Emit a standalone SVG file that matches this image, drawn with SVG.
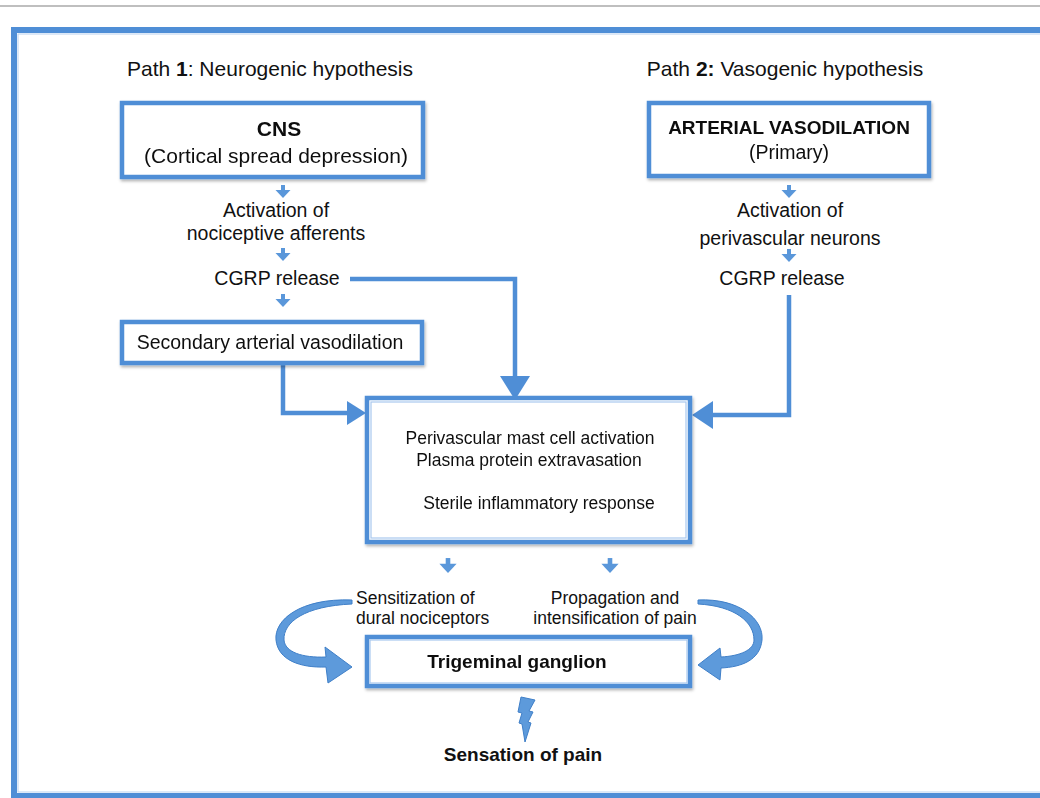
<svg xmlns="http://www.w3.org/2000/svg" width="1040" height="798" viewBox="0 0 1040 798">
<defs>
<style>
.t{font-family:"Liberation Sans",Arial,sans-serif;fill:#111;text-anchor:middle}
.b{font-weight:bold}
.box{fill:#fff;stroke:#4f8ed6;stroke-width:4.5}
.inner{fill:none;stroke:#a9c8ee;stroke-width:1.2}
.con{fill:none;stroke:#4f8ed6;stroke-width:4.5;stroke-linejoin:miter}
.head{fill:#4f8ed6}
.sa{fill:#5a97da}
.curve{fill:#5d9adb;stroke:#3f7fc8;stroke-width:1}
</style>
<filter id="sh" x="-5%" y="-10%" width="110%" height="130%">
<feDropShadow dx="1" dy="2" stdDeviation="1.5" flood-color="#000" flood-opacity="0.3"/>
</filter>
<g id="sarrow">
<rect x="-2" y="-13" width="4" height="6" class="sa"/>
<polygon points="-7.5,-8 7.5,-8 0,0" class="sa"/>
</g>
</defs>
<rect width="1040" height="798" fill="#fff"/>
<line x1="0" y1="6" x2="1040" y2="6" stroke="#aaa" stroke-width="1.5"/>
<g id="frame">
<rect x="14" y="30" width="1040" height="766" fill="none" stroke="#4f8ed6" stroke-width="6"/>
<rect x="18" y="34" width="1030" height="758" fill="none" stroke="#b9d2ef" stroke-width="1"/>
</g>
<g id="titles">
<text class="t" x="270" y="76" font-size="21">Path <tspan class="b">1</tspan>: Neurogenic hypothesis</text>
<text class="t" x="785" y="76" font-size="21">Path <tspan class="b">2:</tspan> Vasogenic hypothesis</text>
</g>
<g id="connectors">
<polyline class="con" points="350,279 515,279 515,378"/>
<polygon class="head" points="500,376 530,376 515,400"/>
<polyline class="con" points="283,363 283,413 349,413"/>
<polygon class="head" points="347,401 347,425 366,413"/>
<polyline class="con" points="789,295 789,415 711,415"/>
<polygon class="head" points="713,401 713,429 692,415"/>
<use href="#sarrow" x="283" y="198"/>
<use href="#sarrow" x="283" y="261"/>
<use href="#sarrow" x="283" y="307"/>
<use href="#sarrow" x="789" y="198"/>
<use href="#sarrow" x="789" y="262"/>
<use href="#sarrow" transform="translate(531,491) scale(1.15)"/>
<use href="#sarrow" transform="translate(448,573) scale(1.15)"/>
<use href="#sarrow" transform="translate(610,573) scale(1.15)"/>
<path class="curve" d="M352,600 C300,598 274,620 276,640 C278,660 300,668 326,667 L328,683 L352,667 L325,647 L326,657 C302,658 285,652 284,640 C283,622 305,606 352,604 Z"/>
<path class="curve" d="M698,600 C740,598 764,620 762,640 C760,660 742,667 721,668 L720,680 L698,665 L720,648 L721,657 C740,656 754,650 754,640 C754,622 735,606 698,604 Z"/>
<polygon class="curve" points="521,697 535,700 529,711 533,712 528,722 531,723 525,742 522,724 519,723 522,713 518,712"/>
</g>
<g id="cns" filter="url(#sh)">
<rect class="box" x="122" y="103" width="301" height="74"/>
<text class="t b" x="279" y="136" font-size="21">CNS</text>
<text class="t" x="276" y="163" font-size="21">(Cortical spread depression)</text>
</g>
<g id="arterial" filter="url(#sh)">
<rect class="box" x="649" y="103" width="280" height="73"/>
<text class="t b" x="789" y="134" font-size="19">ARTERIAL VASODILATION</text>
<text class="t" x="789" y="159" font-size="19.5">(Primary)</text>
</g>
<g id="left-steps">
<text class="t" x="276" y="217" font-size="19.5">Activation of</text>
<text class="t" x="276" y="240" font-size="19.5">nociceptive afferents</text>
<text class="t" x="277" y="285" font-size="19.5">CGRP release</text>
</g>
<g id="right-steps">
<text class="t" x="790" y="217" font-size="19.5">Activation of</text>
<text class="t" x="790" y="245" font-size="19.5">perivascular neurons</text>
<text class="t" x="782" y="285" font-size="19.5">CGRP release</text>
</g>
<g id="secondary" filter="url(#sh)">
<rect class="box" x="122" y="322" width="300" height="41"/>
<text class="t" x="270" y="349" font-size="19.5">Secondary arterial vasodilation</text>
</g>
<g id="center" filter="url(#sh)">
<rect class="box" x="367" y="398" width="323" height="144" stroke-width="6"/>
<rect class="inner" x="371" y="402" width="315" height="136"/>
<text class="t" x="530" y="444" font-size="17.5">Perivascular mast cell activation</text>
<text class="t" x="529" y="466" font-size="17.5">Plasma protein extravasation</text>
<text class="t" x="539" y="509" font-size="17.5">Sterile inflammatory response</text>
</g>
<g id="labels">
<text class="t" x="356" y="604" font-size="17.5" text-anchor="start" style="text-anchor:start">Sensitization of</text>
<text class="t" x="356" y="624" font-size="17.5" style="text-anchor:start">dural nociceptors</text>
<text class="t" x="615" y="604" font-size="17.5">Propagation and</text>
<text class="t" x="615" y="624" font-size="17.5">intensification of pain</text>
</g>
<g id="trigeminal" filter="url(#sh)">
<rect class="box" x="367" y="637" width="323" height="49"/>
<rect class="inner" x="370" y="640" width="317" height="43"/>
<text class="t b" x="517" y="668" font-size="19">Trigeminal ganglion</text>
</g>
<g id="pain">
<text class="t b" x="523" y="761" font-size="19">Sensation of pain</text>
</g>
</svg>
